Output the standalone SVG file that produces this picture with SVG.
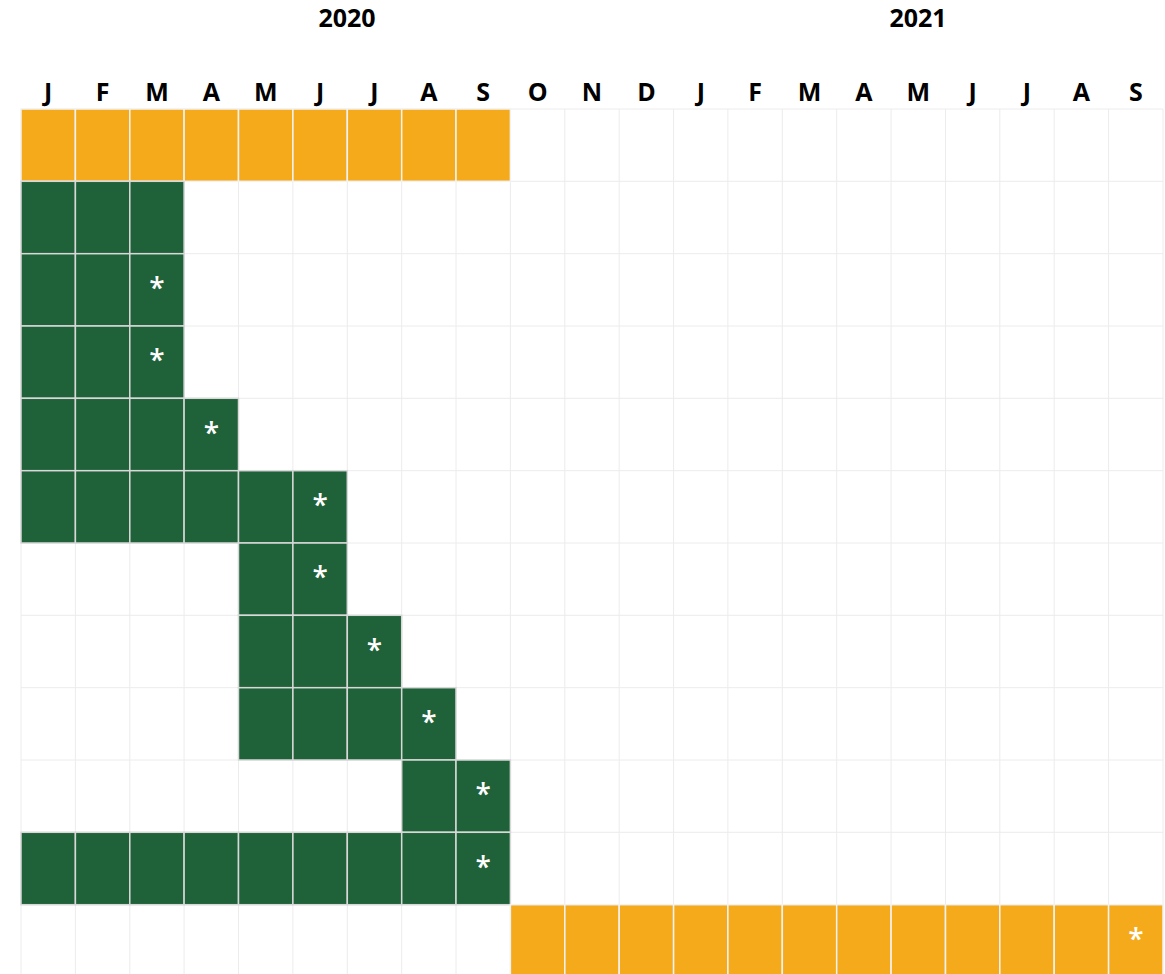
<svg xmlns="http://www.w3.org/2000/svg" width="1165" height="974" viewBox="0 0 1165 974">
<style>
.hd{font-family:"Open Sans","Liberation Sans",sans-serif;font-weight:700;font-size:25px;fill:#000;text-anchor:middle}
.yr{font-family:"Open Sans","Liberation Sans",sans-serif;font-weight:700;font-size:25px;fill:#000;text-anchor:middle}
.gl{stroke:#ececec;stroke-width:1}
.o{fill:#F5AA1C;stroke:#f2f2f2;stroke-width:1.5}
.g{fill:#1F6139;stroke:#d8d8d8;stroke-width:1.5}
.ast{font-family:"Open Sans","Liberation Sans",sans-serif;font-size:28px;font-weight:600;fill:#fff;text-anchor:middle}
</style>
<rect width="1165" height="974" fill="#fff"/>
<g id="years">
<text class="yr" x="347" y="27">2020</text>
<text class="yr" x="918" y="27">2021</text>
</g>
<g id="months">
<text class="hd" x="48.2" y="101">J</text>
<text class="hd" x="102.6" y="101">F</text>
<text class="hd" x="157" y="101">M</text>
<text class="hd" x="211.3" y="101">A</text>
<text class="hd" x="265.7" y="101">M</text>
<text class="hd" x="320.1" y="101">J</text>
<text class="hd" x="374.5" y="101">J</text>
<text class="hd" x="428.9" y="101">A</text>
<text class="hd" x="483.2" y="101">S</text>
<text class="hd" x="537.6" y="101">O</text>
<text class="hd" x="592" y="101">N</text>
<text class="hd" x="646.4" y="101">D</text>
<text class="hd" x="700.8" y="101">J</text>
<text class="hd" x="755.1" y="101">F</text>
<text class="hd" x="809.5" y="101">M</text>
<text class="hd" x="863.9" y="101">A</text>
<text class="hd" x="918.3" y="101">M</text>
<text class="hd" x="972.7" y="101">J</text>
<text class="hd" x="1027" y="101">J</text>
<text class="hd" x="1081.4" y="101">A</text>
<text class="hd" x="1135.8" y="101">S</text>
</g>
<g id="grid" class="gl">
<line x1="21" y1="109" x2="21" y2="974"/><line x1="75.4" y1="109" x2="75.4" y2="974"/><line x1="129.8" y1="109" x2="129.8" y2="974"/><line x1="184.1" y1="109" x2="184.1" y2="974"/><line x1="238.5" y1="109" x2="238.5" y2="974"/><line x1="292.9" y1="109" x2="292.9" y2="974"/><line x1="347.3" y1="109" x2="347.3" y2="974"/><line x1="401.7" y1="109" x2="401.7" y2="974"/><line x1="456" y1="109" x2="456" y2="974"/><line x1="510.4" y1="109" x2="510.4" y2="974"/><line x1="564.8" y1="109" x2="564.8" y2="974"/><line x1="619.2" y1="109" x2="619.2" y2="974"/><line x1="673.6" y1="109" x2="673.6" y2="974"/><line x1="727.9" y1="109" x2="727.9" y2="974"/><line x1="782.3" y1="109" x2="782.3" y2="974"/><line x1="836.7" y1="109" x2="836.7" y2="974"/><line x1="891.1" y1="109" x2="891.1" y2="974"/><line x1="945.5" y1="109" x2="945.5" y2="974"/><line x1="999.8" y1="109" x2="999.8" y2="974"/><line x1="1054.2" y1="109" x2="1054.2" y2="974"/><line x1="1108.6" y1="109" x2="1108.6" y2="974"/><line x1="1163" y1="109" x2="1163" y2="974"/>
<line x1="21" y1="109" x2="1163" y2="109"/><line x1="21" y1="181.3" x2="1163" y2="181.3"/><line x1="21" y1="253.7" x2="1163" y2="253.7"/><line x1="21" y1="326" x2="1163" y2="326"/><line x1="21" y1="398.3" x2="1163" y2="398.3"/><line x1="21" y1="470.7" x2="1163" y2="470.7"/><line x1="21" y1="543" x2="1163" y2="543"/><line x1="21" y1="615.3" x2="1163" y2="615.3"/><line x1="21" y1="687.7" x2="1163" y2="687.7"/><line x1="21" y1="760" x2="1163" y2="760"/><line x1="21" y1="832.3" x2="1163" y2="832.3"/><line x1="21" y1="904.7" x2="1163" y2="904.7"/>
</g>
<g id="row0">
<rect class="o" x="21" y="109" width="54.4" height="72.3"/><rect class="o" x="75.4" y="109" width="54.4" height="72.3"/><rect class="o" x="129.8" y="109" width="54.3" height="72.3"/><rect class="o" x="184.1" y="109" width="54.4" height="72.3"/><rect class="o" x="238.5" y="109" width="54.4" height="72.3"/><rect class="o" x="292.9" y="109" width="54.4" height="72.3"/><rect class="o" x="347.3" y="109" width="54.4" height="72.3"/><rect class="o" x="401.7" y="109" width="54.3" height="72.3"/><rect class="o" x="456" y="109" width="54.4" height="72.3"/>
</g>
<g id="row1">
<rect class="g" x="21" y="181.3" width="54.4" height="72.4"/><rect class="g" x="75.4" y="181.3" width="54.4" height="72.4"/><rect class="g" x="129.8" y="181.3" width="54.3" height="72.4"/>
</g>
<g id="row2">
<rect class="g" x="21" y="253.7" width="54.4" height="72.3"/><rect class="g" x="75.4" y="253.7" width="54.4" height="72.3"/><rect class="g" x="129.8" y="253.7" width="54.3" height="72.3"/>
<text class="ast" x="157" y="298">*</text>
</g>
<g id="row3">
<rect class="g" x="21" y="326" width="54.4" height="72.3"/><rect class="g" x="75.4" y="326" width="54.4" height="72.3"/><rect class="g" x="129.8" y="326" width="54.3" height="72.3"/>
<text class="ast" x="157" y="370.3">*</text>
</g>
<g id="row4">
<rect class="g" x="21" y="398.3" width="54.4" height="72.4"/><rect class="g" x="75.4" y="398.3" width="54.4" height="72.4"/><rect class="g" x="129.8" y="398.3" width="54.3" height="72.4"/><rect class="g" x="184.1" y="398.3" width="54.4" height="72.4"/>
<text class="ast" x="211.3" y="442.6">*</text>
</g>
<g id="row5">
<rect class="g" x="21" y="470.7" width="54.4" height="72.3"/><rect class="g" x="75.4" y="470.7" width="54.4" height="72.3"/><rect class="g" x="129.8" y="470.7" width="54.3" height="72.3"/><rect class="g" x="184.1" y="470.7" width="54.4" height="72.3"/><rect class="g" x="238.5" y="470.7" width="54.4" height="72.3"/><rect class="g" x="292.9" y="470.7" width="54.4" height="72.3"/>
<text class="ast" x="320.1" y="515">*</text>
</g>
<g id="row6">
<rect class="g" x="238.5" y="543" width="54.4" height="72.3"/><rect class="g" x="292.9" y="543" width="54.4" height="72.3"/>
<text class="ast" x="320.1" y="587.3">*</text>
</g>
<g id="row7">
<rect class="g" x="238.5" y="615.3" width="54.4" height="72.4"/><rect class="g" x="292.9" y="615.3" width="54.4" height="72.4"/><rect class="g" x="347.3" y="615.3" width="54.4" height="72.4"/>
<text class="ast" x="374.5" y="659.6">*</text>
</g>
<g id="row8">
<rect class="g" x="238.5" y="687.7" width="54.4" height="72.3"/><rect class="g" x="292.9" y="687.7" width="54.4" height="72.3"/><rect class="g" x="347.3" y="687.7" width="54.4" height="72.3"/><rect class="g" x="401.7" y="687.7" width="54.3" height="72.3"/>
<text class="ast" x="428.9" y="732">*</text>
</g>
<g id="row9">
<rect class="g" x="401.7" y="760" width="54.3" height="72.3"/><rect class="g" x="456" y="760" width="54.4" height="72.3"/>
<text class="ast" x="483.2" y="804.3">*</text>
</g>
<g id="row10">
<rect class="g" x="21" y="832.3" width="54.4" height="72.4"/><rect class="g" x="75.4" y="832.3" width="54.4" height="72.4"/><rect class="g" x="129.8" y="832.3" width="54.3" height="72.4"/><rect class="g" x="184.1" y="832.3" width="54.4" height="72.4"/><rect class="g" x="238.5" y="832.3" width="54.4" height="72.4"/><rect class="g" x="292.9" y="832.3" width="54.4" height="72.4"/><rect class="g" x="347.3" y="832.3" width="54.4" height="72.4"/><rect class="g" x="401.7" y="832.3" width="54.3" height="72.4"/><rect class="g" x="456" y="832.3" width="54.4" height="72.4"/>
<text class="ast" x="483.2" y="876.6">*</text>
</g>
<g id="row11">
<rect class="o" x="510.4" y="904.7" width="54.4" height="72.3"/><rect class="o" x="564.8" y="904.7" width="54.4" height="72.3"/><rect class="o" x="619.2" y="904.7" width="54.4" height="72.3"/><rect class="o" x="673.6" y="904.7" width="54.3" height="72.3"/><rect class="o" x="727.9" y="904.7" width="54.4" height="72.3"/><rect class="o" x="782.3" y="904.7" width="54.4" height="72.3"/><rect class="o" x="836.7" y="904.7" width="54.4" height="72.3"/><rect class="o" x="891.1" y="904.7" width="54.4" height="72.3"/><rect class="o" x="945.5" y="904.7" width="54.3" height="72.3"/><rect class="o" x="999.8" y="904.7" width="54.4" height="72.3"/><rect class="o" x="1054.2" y="904.7" width="54.4" height="72.3"/><rect class="o" x="1108.6" y="904.7" width="54.4" height="72.3"/>
<text class="ast" x="1135.8" y="949">*</text>
</g>
</svg>
